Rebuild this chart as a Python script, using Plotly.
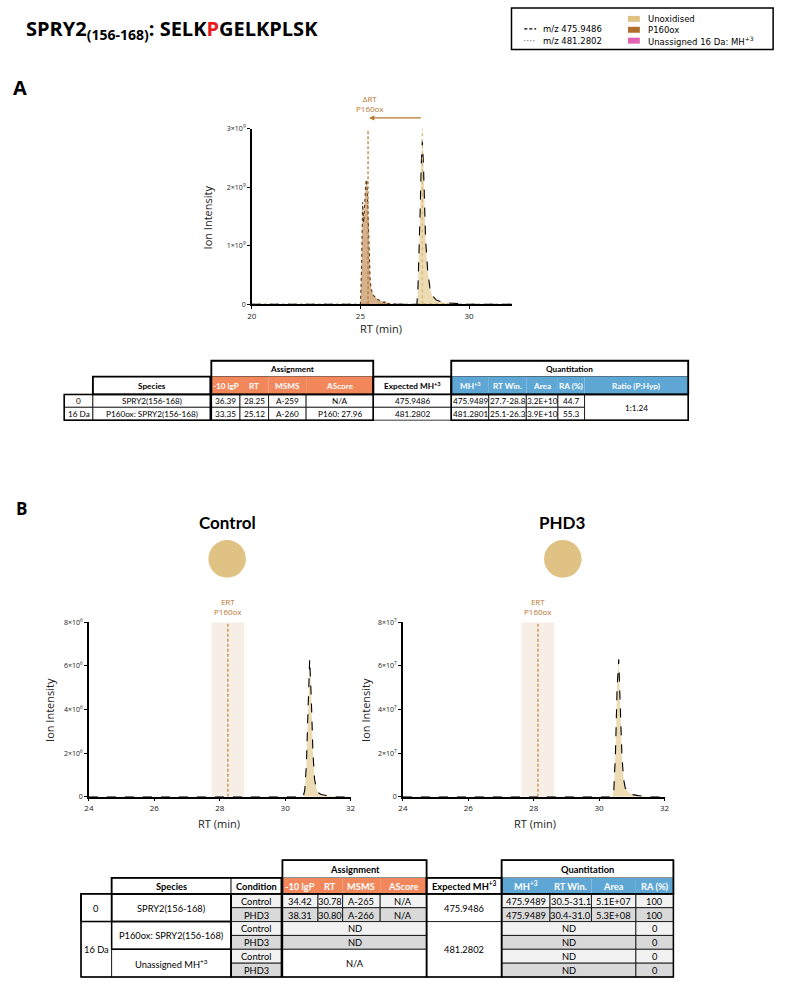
import plotly.graph_objects as go

# ---------------- DATA ----------------
# Panel A chromatogram (RT in min, intensity)
rtA_unox = [20, 27.6, 27.65, 27.7, 27.75, 27.8, 27.85, 27.9, 27.95, 28.0, 28.1, 28.2, 28.3, 28.5, 28.8, 29.2, 29.9, 32]
intA_unox = [0, 0, 0.3e9, 0.8e9, 1.6e9, 2.4e9, 2.8e9, 2.4e9, 1.7e9, 1.1e9, 0.55e9, 0.28e9, 0.15e9, 0.07e9, 0.03e9, 0.015e9, 0, 0]
rtA_ox = [20, 25.0, 25.05, 25.1, 25.15, 25.2, 25.25, 25.3, 25.35, 25.4, 25.45, 25.5, 25.6, 25.8, 26.0, 26.1, 26.15, 26.2, 26.3, 26.5, 27.0, 32]
intA_ox = [0, 0, 0.6e9, 1.75e9, 1.4e9, 1.7e9, 2.08e9, 2.13e9, 1.6e9, 0.8e9, 0.4e9, 0.25e9, 0.15e9, 0.08e9, 0.05e9, 0.03e9, 0.05e9, 0.03e9, 0.01e9, 0.005e9, 0, 0]
A_yticks = [0, 1e9, 2e9, 3e9]
A_yticktext = ["0", "1×10<sup>9</sup>", "2×10<sup>9</sup>", "3×10<sup>9</sup>"]
A_xticks = [20, 25, 30]
A_rt_ox_line = 25.35
A_rt_unox_line = 27.85

# Panel B chromatograms
rtB_ctrl = [24, 30.55, 30.6, 30.65, 30.7, 30.75, 30.8, 30.85, 30.9, 30.95, 31.0, 31.1, 31.3, 31.6, 32]
intB_ctrl = [0, 0, 0.3e6, 1.5e6, 4.0e6, 6.3e6, 4.5e6, 2.0e6, 0.8e6, 0.4e6, 0.2e6, 0.1e6, 0.05e6, 0, 0]
rtB_phd3 = [24, 30.4, 30.45, 30.5, 30.55, 30.6, 30.65, 30.7, 30.75, 30.8, 30.9, 31.0, 31.2, 31.5, 32]
intB_phd3 = [0, 0, 0.3e7, 2.0e7, 5.0e7, 6.3e7, 4.0e7, 1.8e7, 0.8e7, 0.4e7, 0.2e7, 0.1e7, 0.05e7, 0, 0]
B_xticks = [24, 26, 28, 30, 32]
Bc_yticks = [0, 2e6, 4e6, 6e6, 8e6]
Bc_yticktext = ["0", "2×10<sup>6</sup>", "4×10<sup>6</sup>", "6×10<sup>6</sup>", "8×10<sup>6</sup>"]
Bp_yticks = [0, 2e7, 4e7, 6e7, 8e7]
Bp_yticktext = ["0", "2×10<sup>7</sup>", "4×10<sup>7</sup>", "6×10<sup>7</sup>", "8×10<sup>7</sup>"]
B_ert = [28.25, 28.13]
B_ert_win = [[27.75, 28.75], [27.63, 28.63]]
B_conditions_title = ["Control", "PHD3"]

# Legend
legend_lines = ["m/z 475.9486", "m/z 481.2802"]
legend_fills = ["Unoxidised", "P160ox", "Unassigned 16 Da: MH<sup>+3</sup>"]

# Table A
tA_groups = ["Assignment", "Quantitation"]
tA_headers = ["Species", "-10 lgP", "RT", "MSMS", "AScore", "Expected MH<sup>+3</sup>",
              "MH<sup>+3</sup>", "RT Win.", "Area", "RA (%)", "Ratio (P:Hyp)"]
tA_mass = ["0", "16 Da"]
tA_species = ["SPRY2(156-168)", "P160ox: SPRY2(156-168)"]
tA_lgp = ["36.39", "33.35"]
tA_rt = ["28.25", "25.12"]
tA_msms = ["A-259", "A-260"]
tA_ascore = ["N/A", "P160: 27.96"]
tA_expected = ["475.9486", "481.2802"]
tA_mh = ["475.9489", "481.2801"]
tA_rtwin = ["27.7-28.8", "25.1-26.3"]
tA_area = ["3.2E+10", "3.9E+10"]
tA_ra = ["44.7", "55.3"]
tA_ratio = "1:1.24"

# Table B
tB_headers = ["Species", "Condition", "-10 lgP", "RT", "MSMS", "AScore", "Expected MH<sup>+3</sup>",
              "MH<sup>+3</sup>", "RT Win.", "Area", "RA (%)"]
tB_mass = ["0", "16 Da"]
tB_species = ["SPRY2(156-168)", "P160ox: SPRY2(156-168)", "Unassigned MH<sup>+3</sup>"]
tB_condition = ["Control", "PHD3", "Control", "PHD3", "Control", "PHD3"]
tB_lgp = ["34.42", "38.31"]
tB_rt = ["30.78", "30.80"]
tB_msms = ["A-265", "A-266"]
tB_ascore = ["N/A", "N/A"]
tB_assign_other = ["ND", "ND", "N/A"]
tB_expected = ["475.9486", "481.2802"]
tB_mh = ["475.9489", "475.9489"]
tB_rtwin = ["30.5-31.1", "30.4-31.0"]
tB_area = ["5.1E+07", "5.3E+08"]
tB_ra = ["100", "100", "0", "0", "0", "0"]
tB_quant_other = ["ND", "ND", "ND", "ND"]

# ---------------- STYLE / HELPERS ----------------
W, H = 788, 987
TAN = "#E0C384"
BROWN = "#B06D2C"
PINK = "#E462B4"
ORANGE = "#F2875B"
BLUE = "#5EA6D4"
LABEL_BROWN = "#B9772F"
TF = "Lato"
CF = "Open Sans"

def px(x):
    return x / W

def py(y):
    return 1 - y / H

shapes = []
annots = []

def rect(x0, y0, x1, y1, fill=None, lw=0.8, color="black"):
    shapes.append(dict(type="rect", xref="paper", yref="paper",
                       x0=px(x0), x1=px(x1), y0=py(y1), y1=py(y0),
                       fillcolor=fill if fill else "rgba(0,0,0,0)",
                       line=dict(color=color, width=lw), layer="above"))

def text(x, y, s, size=9, color="black", bold=False, family=TF, xanchor="center"):
    annots.append(dict(x=px(x), y=py(y), xref="paper", yref="paper",
                       text=("<b>" + s + "</b>") if bold else s, showarrow=False,
                       font=dict(size=size, color=color, family=family),
                       xanchor=xanchor, yanchor="middle"))

def cell(x0, y0, x1, y1, s, fill="white", size=9, color="black", bold=False, lw=0.8):
    rect(x0, y0, x1, y1, fill=fill, lw=lw)
    if s:
        text((x0 + x1) / 2, (y0 + y1) / 2 + 0.5, s, size=size, color=color, bold=bold)

fig = go.Figure()

# ---------------- CHART TRACES ----------------
fig.add_trace(go.Scatter(x=rtA_unox, y=intA_unox, mode="lines", xaxis="x", yaxis="y",
                         line=dict(color="black", dash="dash", width=1.1),
                         fill="tozeroy", fillcolor="rgba(232,210,160,0.8)", showlegend=False))
fig.add_trace(go.Scatter(x=rtA_ox, y=intA_ox, mode="lines", xaxis="x", yaxis="y",
                         line=dict(color="#5a3510", dash="dot", width=1.1),
                         fill="tozeroy", fillcolor="rgba(190,135,80,0.65)", showlegend=False))
fig.add_trace(go.Scatter(x=rtB_ctrl, y=intB_ctrl, mode="lines", xaxis="x2", yaxis="y2",
                         line=dict(color="black", dash="dash", width=1.1),
                         fill="tozeroy", fillcolor="rgba(232,210,160,0.8)", showlegend=False))
fig.add_trace(go.Scatter(x=rtB_phd3, y=intB_phd3, mode="lines", xaxis="x3", yaxis="y3",
                         line=dict(color="black", dash="dash", width=1.1),
                         fill="tozeroy", fillcolor="rgba(232,210,160,0.8)", showlegend=False))

# axes
def xax(dom, anchor, rng, ticks):
    return dict(domain=[px(dom[0]), px(dom[1])], anchor=anchor, range=rng, tickvals=ticks,
                showline=True, linecolor="black", linewidth=1.5, ticks="outside", ticklen=3,
                tickwidth=1, tickcolor="black", showgrid=False, zeroline=False,
                tickfont=dict(size=8, family=CF, color="#222"))

def yax(dom, anchor, rng, ticks, ttext):
    return dict(domain=[py(dom[1]), py(dom[0])], anchor=anchor, range=rng, tickvals=ticks,
                ticktext=ttext, showline=True, linecolor="black", linewidth=1.5,
                ticks="outside", ticklen=3, tickwidth=1, tickcolor="black",
                showgrid=False, zeroline=False, tickfont=dict(size=7, family=CF, color="#222"))

layout_axes = dict(
    xaxis=xax((250, 514), "y", [20, 32], A_xticks),
    yaxis=yax((125, 302), "x", [0, 3e9], A_yticks, A_yticktext),
    xaxis2=xax((85, 350), "y2", [24, 32], B_xticks),
    yaxis2=yax((623, 799), "x2", [0, 8e6], Bc_yticks, Bc_yticktext),
    xaxis3=xax((403, 668), "y3", [24, 32], B_xticks),
    yaxis3=yax((623, 799), "x3", [0, 8e7], Bp_yticks, Bp_yticktext),
)

# Panel A reference lines & arrow
shapes.append(dict(type="line", xref="x", yref="y", x0=A_rt_ox_line, x1=A_rt_ox_line, y0=0, y1=3e9,
                   line=dict(color=LABEL_BROWN, width=1.2, dash="3px,2px"), layer="above"))
shapes.append(dict(type="line", xref="x", yref="y", x0=A_rt_unox_line, x1=A_rt_unox_line, y0=0, y1=3e9,
                   line=dict(color="#D9B56E", width=1.2, dash="dot"), layer="above"))
annots.append(dict(x=A_rt_ox_line + 0.05, y=py(114), xref="x", yref="paper",
                   ax=A_rt_unox_line, ay=0, axref="x", ayref="pixel", showarrow=True,
                   arrowhead=2, arrowsize=0.8, arrowwidth=1.3, arrowcolor=LABEL_BROWN, text=""))
annots.append(dict(x=A_rt_ox_line + 0.1, y=py(99), xref="x", yref="paper", showarrow=False,
                   text="ΔRT<br>P160ox", font=dict(size=8, color=LABEL_BROWN, family=CF),
                   xanchor="center", yanchor="middle"))

# Panel B ERT windows
for i, (xa, ya, ytop) in enumerate([("x2", "y2", 8e6), ("x3", "y3", 8e7)]):
    w0, w1 = B_ert_win[i]
    shapes.append(dict(type="rect", xref=xa, yref=ya, x0=w0, x1=w1, y0=0, y1=ytop,
                       fillcolor="rgba(240,222,204,0.5)", line=dict(width=0), layer="below"))
    shapes.append(dict(type="line", xref=xa, yref=ya, x0=B_ert[i], x1=B_ert[i], y0=0, y1=ytop,
                       line=dict(color=LABEL_BROWN, width=1.1, dash="3px,2px"), layer="above"))
    annots.append(dict(x=B_ert[i], y=py(607), xref=xa, yref="paper", showarrow=False,
                       text="ERT<br>P160ox", font=dict(size=8, color=LABEL_BROWN, family=CF),
                       xanchor="center", yanchor="middle"))

# axis titles
def vtitle(x, y, s):
    annots.append(dict(x=px(x), y=py(y), xref="paper", yref="paper", text=s, showarrow=False,
                       textangle=-90, font=dict(size=11, family=CF, color="#222"),
                       xanchor="center", yanchor="middle"))

vtitle(205, 214, "Ion Intensity")
vtitle(45, 711, "Ion Intensity")
vtitle(365, 711, "Ion Intensity")
text(381, 326, "RT (min)", size=11, family=CF, color="#222")
text(217, 826, "RT (min)", size=11, family=CF, color="#222")
text(537, 826, "RT (min)", size=11, family=CF, color="#222")

# ---------------- TITLE, PANEL LABELS, LEGEND ----------------
annots.append(dict(x=px(19), y=py(25), xref="paper", yref="paper", showarrow=False,
                   xanchor="left", yanchor="middle",
                   text="<b>SPRY2<sub>(156-168)</sub>: SELK<span style='color:#E8191A'>P</span>GELKPLSK</b>",
                   font=dict(size=20, family=CF, color="black")))
text(15, 83, "A", size=20, bold=True, family=CF, xanchor="center")
text(17, 508, "B", size=17, bold=True, family=CF, xanchor="center")
for cx, name in zip([225, 565], B_conditions_title):
    text(cx, 522, name, size=17, bold=True, family=TF)
    shapes.append(dict(type="circle", xref="paper", yref="paper",
                       x0=px(cx - 19), x1=px(cx + 19), y0=py(578), y1=py(540),
                       fillcolor=TAN, line=dict(width=0)))

# legend box
rect(513, 3, 778, 45, lw=1.5)
shapes.append(dict(type="line", xref="paper", yref="paper", x0=px(526), x1=px(538), y0=py(24), y1=py(24),
                   line=dict(color="black", width=1.2, dash="3px,2px")))
shapes.append(dict(type="line", xref="paper", yref="paper", x0=px(526), x1=px(538), y0=py(36), y1=py(36),
                   line=dict(color="#555", width=1.0, dash="1px,2px")))
text(543, 24, legend_lines[0], size=8.5, family="DejaVu Sans", xanchor="left")
text(543, 36, legend_lines[1], size=8.5, family="DejaVu Sans", xanchor="left")
for yy, col, lab in zip([14, 25, 36], [TAN, BROWN, PINK], legend_fills):
    rect(631, yy - 3, 643, yy + 3, fill=col, lw=0, color=col)
    text(649, yy, lab, size=8.5, family="DejaVu Sans", xanchor="left")

# ---------------- TABLE A ----------------
aX = [60, 89, 208, 238, 267, 305, 373, 452, 490, 528, 560, 587, 692]
aY = [359, 375, 393, 406, 419]
fa = 8.2
cell(aX[2] + 1, aY[0], aX[6], aY[1], tA_groups[0], bold=True, size=fa)
cell(aX[7], aY[0], aX[12], aY[1], tA_groups[1], bold=True, size=fa)
cell(aX[1], aY[1], aX[2], aY[2], tA_headers[0], bold=True, size=fa)
for j in range(4):
    cell(aX[2 + j] + (1 if j == 0 else 0), aY[1], aX[3 + j], aY[2], tA_headers[1 + j],
         fill=ORANGE, color="white", bold=True, lw=0, size=fa)
cell(aX[6], aY[1], aX[7], aY[2], tA_headers[5], bold=True, size=fa)
for j in range(5):
    cell(aX[7 + j], aY[1], aX[8 + j], aY[2], tA_headers[6 + j], fill=BLUE, color="white",
         bold=True, lw=0, size=fa)
for r in range(2):
    y0, y1 = aY[2 + r], aY[3 + r]
    vals = [tA_mass[r], tA_species[r], tA_lgp[r], tA_rt[r], tA_msms[r], tA_ascore[r],
            tA_expected[r], tA_mh[r], tA_rtwin[r], tA_area[r], tA_ra[r]]
    for j, v in enumerate(vals):
        x0 = aX[j] + (1 if j == 2 else 0)
        cell(x0, y0, aX[j + 1], y1, v, size=fa)
cell(aX[11], aY[2], aX[12], aY[4], tA_ratio, size=fa)
rect(aX[2] + 1, aY[0], aX[6], aY[2], lw=1.8)
rect(aX[7], aY[0], aX[12], aY[2], lw=1.8)
rect(aX[1], aY[1], aX[2], aY[2], lw=1.8)
rect(aX[6], aY[1], aX[7], aY[2], lw=1.8)
rect(aX[0], aY[2], aX[2], aY[4], lw=1.5)
rect(aX[2] + 1, aY[2], aX[6], aY[4], lw=1.5)
rect(aX[7], aY[2], aX[12], aY[4], lw=1.5)

# ---------------- TABLE B ----------------
bX = [77, 108, 229, 280, 317, 342, 380, 427, 503, 552, 594, 639, 677]
bY = [863, 881, 897] + [897 + 14 * (i + 1) for i in range(6)]
ROW_FILL = ["#F2F2F2", "#D9D9D9"]
fs = 9.3
cell(bX[3] + 1, bY[0], bX[7], bY[1], "Assignment", bold=True, size=fs)
cell(bX[8], bY[0], bX[12], bY[1], "Quantitation", bold=True, size=fs)
cell(bX[1], bY[1], bX[2], bY[2], tB_headers[0], bold=True, size=fs)
cell(bX[2], bY[1], bX[3], bY[2], tB_headers[1], bold=True, size=fs)
for j in range(4):
    cell(bX[3 + j] + (1 if j == 0 else 0), bY[1], bX[4 + j], bY[2], tB_headers[2 + j],
         fill=ORANGE, color="white", bold=True, lw=0, size=fs)
cell(bX[7], bY[1], bX[8], bY[2], tB_headers[6], bold=True, size=fs)
for j in range(4):
    cell(bX[8 + j], bY[1], bX[9 + j], bY[2], tB_headers[7 + j], fill=BLUE, color="white",
         bold=True, lw=0, size=fs)

R = bY[2:]
cell(bX[0], R[0], bX[1], R[2], tB_mass[0], size=fs)
cell(bX[0], R[2], bX[1], R[6], tB_mass[1], size=fs)
for k in range(3):
    cell(bX[1], R[2 * k], bX[2], R[2 * k + 2], tB_species[k], size=fs)
for i in range(6):
    cell(bX[2], R[i], bX[3], R[i + 1], tB_condition[i], fill=ROW_FILL[i % 2], size=fs)
for i in range(2):
    vals = [tB_lgp[i], tB_rt[i], tB_msms[i], tB_ascore[i]]
    for j, v in enumerate(vals):
        cell(bX[3 + j] + (1 if j == 0 else 0), R[i], bX[4 + j], R[i + 1], v, fill=ROW_FILL[i % 2], size=fs)
cell(bX[3] + 1, R[2], bX[7], R[3], tB_assign_other[0], fill=ROW_FILL[0], size=fs)
cell(bX[3] + 1, R[3], bX[7], R[4], tB_assign_other[1], fill=ROW_FILL[1], size=fs)
cell(bX[3] + 1, R[4], bX[7], R[6], tB_assign_other[2], fill="white", size=fs)
cell(bX[7], R[0], bX[8], R[2], tB_expected[0], size=fs)
cell(bX[7], R[2], bX[8], R[6], tB_expected[1], size=fs)
for i in range(2):
    vals = [tB_mh[i], tB_rtwin[i], tB_area[i], tB_ra[i]]
    for j, v in enumerate(vals):
        cell(bX[8 + j], R[i], bX[9 + j], R[i + 1], v, fill=ROW_FILL[i % 2], size=fs)
for i in range(2, 6):
    cell(bX[8], R[i], bX[11], R[i + 1], tB_quant_other[i - 2], fill=ROW_FILL[i % 2], size=fs)
    cell(bX[11], R[i], bX[12], R[i + 1], tB_ra[i], fill=ROW_FILL[i % 2], size=fs)
rect(bX[3] + 1, bY[0], bX[7], bY[2], lw=1.8)
rect(bX[8], bY[0], bX[12], bY[2], lw=1.8)
rect(bX[1], bY[1], bX[3], bY[2], lw=1.8)
rect(bX[7], bY[1], bX[8], bY[2], lw=1.8)
rect(bX[0], R[0], bX[2], R[6], lw=1.5)
rect(bX[0], R[0], bX[1], R[2], lw=1.5)
rect(bX[1], R[0], bX[2], R[2], lw=1.5)
rect(bX[1], R[2], bX[2], R[4], lw=1.5)
rect(bX[2], R[0], bX[3], R[6], lw=1.5)
rect(bX[3] + 1, R[0], bX[7], R[6], lw=1.5)
rect(bX[7], R[0], bX[8], R[6], lw=1.5)
rect(bX[8], R[0], bX[12], R[6], lw=1.5)

fig.update_layout(
    width=W, height=H, autosize=False,
    margin=dict(l=0, r=0, t=0, b=0),
    paper_bgcolor="white", plot_bgcolor="white",
    showlegend=False,
    shapes=shapes, annotations=annots,
    **layout_axes,
)

fig.write_html("out.html", config={"displayModeBar": False},
               post_script="document.body.style.margin='0px';document.body.style.overflow='hidden';")
